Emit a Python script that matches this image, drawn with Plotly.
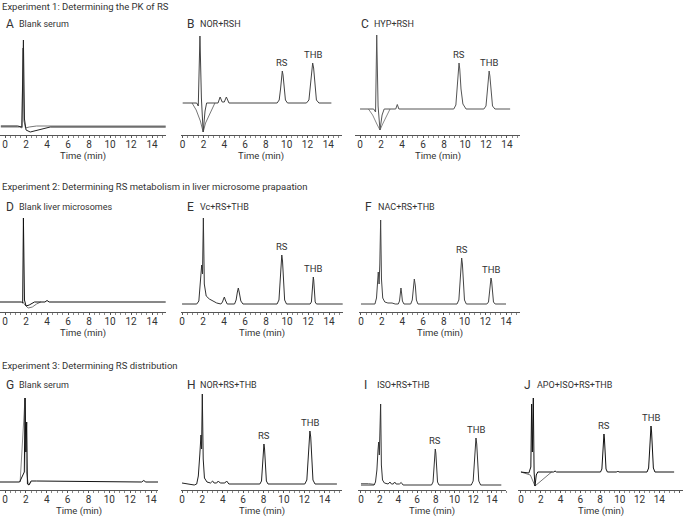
import plotly.graph_objects as go

# ---------------------------------------
# DATA: time (min) and signal (arbitrary units above baseline)
# ---------------------------------------
TITLES = [
    "Experiment 1: Determining the PK of RS",
    "Experiment 2: Determining RS metabolism in liver microsome prapaation",
    "Experiment 3: Determining RS distribution",
]
LETTERS = ["A", "B", "C", "D", "E", "F", "G", "H", "I", "J"]
NAMES = ["Blank serum", "NOR+RSH", "HYP+RSH",
         "Blank liver microsomes", "Vc+RS+THB", "NAC+RS+THB",
         "Blank serum", "NOR+RS+THB", "ISO+RS+THB", "APO+ISO+RS+THB"]
AXIS_TITLE = "Time (min)"

# A - blank serum
a_t1 = [-0.4, 1.2, 1.6, 1.75, 1.85, 2.0, 2.4, 3.2, 4.3, 15.3]
a_s1 = [1, 1, 0, 87, 8, -3, -5, -3, 0, 0]
a_t2 = [-0.4, 1.4, 1.62, 1.7, 1.8, 1.95, 2.3, 3.0, 4.0, 15.3]
a_s2 = [0, 0, -1, 79, 6, -1, 0, 1, 1, 1]

# B - NOR+RSH
b_t1 = [0, 1.35, 1.5, 1.66, 1.8, 1.97, 2.15, 2.3, 3.4, 3.6, 3.8, 4.0, 4.2, 4.45,
        9.08, 9.28, 9.41, 9.51, 9.58, 9.65, 9.75, 9.88, 10.08,
        11.9, 12.14, 12.29, 12.41, 12.5, 12.59, 12.71, 12.86, 13.1, 14.3]
b_s1 = [0, 0, -3, 67, 5, -29, -8, 0, 0, 6, 1, 1, 6, 0,
        0, 3, 14, 28, 32, 28, 14, 3, 0,
        0, 3, 18, 35, 40, 35, 18, 3, 0, 0]
b_t2 = [0.9, 1.3, 1.7, 1.97, 2.2, 2.5, 2.6, 2.9, 3.1]
b_s2 = [0, -7, -18, -29, -20, -13, -10, -4, 0]

# C - HYP+RSH
c_t1 = [0, 1.3, 1.48, 1.59, 1.72, 1.9, 2.1, 2.3, 3.4, 3.55, 3.7,
        8.93, 9.13, 9.26, 9.36, 9.43, 9.5, 9.62, 9.8, 10.1,
        11.8, 12.0, 12.12, 12.23, 12.3, 12.37, 12.48, 12.62, 12.85, 14.3]
c_s1 = [0, 0, -3, 74, 3, -21, -6, 0, 0, 4.5, 0,
        0, 4, 20, 40, 46, 40, 20, 5, 0,
        0, 3, 17, 33, 38, 33, 17, 3, 0, 0]
c_t2 = [0.8, 1.2, 1.6, 1.9, 2.2, 2.5, 2.86]
c_s2 = [0, -6, -15, -21, -14, -7, 0]

# D - blank liver microsomes
d_t1 = [-0.5, 1.55, 1.68, 1.75, 1.85, 2.0, 2.3, 2.8, 3.8, 4.0, 4.2, 15.3]
d_s1 = [0, 0, -1, 84, 2, -4, -3, 0, 0, 1.5, 0, 0]
d_t2 = [1.7, 1.9, 2.2, 2.6, 3.0, 3.4]
d_s2 = [0, -3, -6, -5, -2, 0]

# E - Vc+RS+THB
e_t1 = [0, 1.4, 1.6, 1.75, 1.87, 1.95, 2.03, 2.12, 2.3, 2.6, 3.0, 3.3,
        3.7, 3.85, 3.95, 4.03, 4.12, 4.3, 5.0, 5.15, 5.27, 5.36, 5.46, 5.6, 5.8,
        9.05, 9.23, 9.34, 9.43, 9.5, 9.57, 9.66, 9.77, 9.95,
        12.2, 12.32, 12.4, 12.46, 12.5, 12.54, 12.6, 12.68, 12.8, 15.3]
e_s1 = [0, 0, 3, 20, 39, 30, 86, 20, 8, 5, 3, 1,
        0, 2, 5, 7, 4, 0, 0, 4, 12, 16, 11, 3, 0,
        0, 4, 22, 43, 49, 43, 22, 4, 0,
        0, 2, 12, 24, 27, 24, 12, 2, 0, 0]

# F - NAC+RS+THB
f_t1 = [0, 1.35, 1.5, 1.6, 1.67, 1.75, 1.82, 1.9, 1.98, 2.1, 2.3, 2.6, 3.0, 3.3,
        3.6, 3.72, 3.8, 3.86, 3.92, 4.0, 4.15, 4.8, 4.95, 5.05, 5.15, 5.25, 5.35, 5.5, 6.0,
        9.27, 9.45, 9.56, 9.65, 9.72, 9.79, 9.88, 9.99, 10.17,
        12.15, 12.31, 12.41, 12.49, 12.55, 12.61, 12.69, 12.79, 12.95, 14.0]
f_s1 = [0, 0, 6, 25, 32, 20, 40, 84, 25, 6, 2, 1, 1, 0,
        0, 3, 11, 16, 11, 3, 0, 0, 4, 18, 25, 18, 4, 0, 0,
        0, 4, 21, 40, 46, 40, 21, 4, 0,
        0, 2, 12, 23, 26, 23, 12, 2, 0, 0]

# G - blank serum
g_t1 = [-0.5, 1.4, 1.85, 1.92, 2.0, 2.08, 2.15, 2.3, 2.5, 3.0, 13.1, 13.3, 13.5, 15.0]
g_s1 = [0, 0, 10, 84, 30, 60, -2, -3, 1, 1, 0, 1.5, 0, 0]
g_t2 = [1.45, 1.92, 2.05, 2.25, 2.5]
g_s2 = [0, 84, 10, -3, 0]

# H - NOR+RS+THB
h_t1 = [0, 0.6, 1.2, 1.44, 1.6, 1.75, 1.86, 1.92, 1.99, 2.08, 2.2, 2.45,
        2.8, 2.9, 3.0, 3.15, 3.4, 3.56, 3.75, 4.2, 4.38, 4.6, 5.5,
        7.64, 7.8, 7.9, 7.98, 8.04, 8.1, 8.18, 8.28, 8.44,
        12.05, 12.25, 12.37, 12.47, 12.55, 12.63, 12.73, 12.85, 13.05, 15.2]
h_s1 = [1, 0, -1, 0, 8, 30, 49, 35, 90, 25, 6, 2,
        1, 2, 3, 1, 1, 3, 1, 1, 3, 0, 0,
        0, 3, 18, 35, 40, 35, 18, 3, 0,
        0, 4, 24, 47, 53, 47, 24, 4, 0, 0]

# I - ISO+RS+THB
i_t1 = [0, 1.4, 1.55, 1.7, 1.82, 1.89, 1.96, 2.03, 2.1, 2.18, 2.3, 2.5,
        2.9, 3.0, 3.1, 3.25, 3.45, 3.6, 3.75, 4.1, 4.3, 4.5, 5.5,
        7.54, 7.7, 7.8, 7.88, 7.94, 8.0, 8.08, 8.18, 8.34,
        11.79, 11.99, 12.11, 12.21, 12.29, 12.37, 12.47, 12.59, 12.79, 15.0]
i_s1 = [0, 0, 3, 15, 35, 43, 30, 60, 81, 20, 5, 2,
        1, 2, 3, 1, 1, 3, 1, 1, 2.5, 0, 0,
        0, 3, 16, 32, 36, 32, 16, 3, 0,
        0, 4, 21, 41, 47, 41, 21, 4, 0, 0]
i_t2 = [0, 0.8, 1.5]
i_s2 = [1.5, 1.5, 0.5]

# J - APO+ISO+RS+THB
j_t1 = [0, 0.8, 1.0, 1.08, 1.15, 1.25, 1.33, 1.42, 1.55, 1.7, 3.3, 3.45, 3.6,
        8.05, 8.19, 8.28, 8.35, 8.4, 8.45, 8.52, 8.61, 8.75, 9.7, 9.8, 9.9,
        12.76, 12.92, 13.02, 13.1, 13.16, 13.22, 13.3, 13.4, 13.56, 15.5]
j_s1 = [0, -1, 5, 68, 20, 74, 0, -14, -3, 0, 0, 1, 0,
        0, 3, 17, 33, 38, 33, 17, 3, 0, 0, 1, 0,
        0, 4, 21, 40, 46, 40, 21, 4, 0, 0]
j_t2 = [0, 0.95, 1.42, 3.1]
j_s2 = [0, -3, -14, 0]

# peak labels: (panel index, label, retention time, height)
PEAK_LABELS = [
    (1, "RS", 9.58, 32), (1, "THB", 12.5, 40),
    (2, "RS", 9.43, 46), (2, "THB", 12.3, 38),
    (4, "RS", 9.5, 49), (4, "THB", 12.5, 27),
    (5, "RS", 9.72, 46), (5, "THB", 12.55, 26),
    (7, "RS", 8.04, 40), (7, "THB", 12.55, 53),
    (8, "RS", 7.94, 36), (8, "THB", 12.29, 47),
    (9, "RS", 8.4, 38), (9, "THB", 13.16, 46),
]

# ---------------------------------------
# LAYOUT (pixel geometry of each panel)
# ---------------------------------------
W, H = 685, 517
ROW_AXIS = [135, 312, 490]
ROW_TOP = [30, 210, 390]
ROW_TITLE_Y = [6, 187, 365]
ROW_LABEL_Y = [24, 207, 385]

# (row, left px, right px, x range, baseline px, traces)
PANELS = [
    (0, 0, 166, [-0.48, 15.33], 127, [(a_t2, a_s2, "#777"), (a_t1, a_s1, "#222")]),
    (0, 180.5, 342, [-0.21, 15.32], 103, [(b_t2, b_s2, "#777"), (b_t1, b_s1, "#444")]),
    (0, 355, 520, [-0.48, 15.24], 109, [(c_t2, c_s2, "#888"), (c_t1, c_s1, "#555")]),
    (1, 0, 166, [-0.48, 15.33], 302, [(d_t2, d_s2, "#777"), (d_t1, d_s1, "#111")]),
    (1, 181, 343, [-0.1, 15.33], 304, [(e_t1, e_s1, "#333")]),
    (1, 359, 520, [-0.19, 15.35], 304, [(f_t1, f_s1, "#444")]),
    (2, 0, 158, [-0.48, 14.67], 482, [(g_t2, g_s2, "#888"), (g_t1, g_s1, "#111")]),
    (2, 181, 342, [-0.1, 15.7], 484, [(h_t1, h_s1, "#222")]),
    (2, 358, 506, [-0.32, 15.5], 485, [(i_t2, i_s2, "#777"), (i_t1, i_s1, "#333")]),
    (2, 518, 683, [-0.3, 16.4], 472, [(j_t2, j_s2, "#777"), (j_t1, j_s1, "#111")]),
]

FONT = "Roboto"
TXT = "#333"

fig = go.Figure()
annotations = []

for k, (row, x0, x1, xr, base, traces) in enumerate(PANELS):
    n = k + 1
    axis_px, top_px = ROW_AXIS[row], ROW_TOP[row]
    for t, s, col in traces:
        fig.add_trace(go.Scatter(
            x=t, y=s, mode="lines",
            line=dict(color=col, width=1),
            xaxis=f"x{n}", yaxis=f"y{n}",
            hoverinfo="skip", showlegend=False
        ))
    fig.layout[f"xaxis{n}"] = dict(
        domain=[x0 / W, x1 / W], range=xr, anchor=f"y{n}",
        showline=True, linecolor="#555", linewidth=1,
        showgrid=False, zeroline=False, automargin=False,
        tick0=0, dtick=2, ticks="outside", ticklen=2, tickcolor="#555",
        minor=dict(dtick=0.5, ticks="outside", ticklen=2, tickcolor="#888"),
        tickfont=dict(family=FONT, size=10, color=TXT),
        ticklabelstandoff=-2,
        fixedrange=True
    )
    fig.layout[f"yaxis{n}"] = dict(
        domain=[1 - axis_px / H, 1 - top_px / H],
        range=[-(axis_px - base), base - top_px],
        anchor=f"x{n}", visible=False, fixedrange=True, automargin=False
    )
    # axis title under the tick labels
    annotations.append(dict(
        x=(x0 + x1) / 2 / W, y=1 - (axis_px + 20.5) / H, xref="paper", yref="paper",
        text=AXIS_TITLE, showarrow=False, xanchor="center", yanchor="middle",
        font=dict(family=FONT, size=9.5, color=TXT)
    ))
    # panel letter and name
    annotations.append(dict(
        x=(x0 + 4) / W, y=1 - ROW_LABEL_Y[row] / H, xref="paper", yref="paper",
        text=LETTERS[k], showarrow=False, xanchor="left", yanchor="middle",
        font=dict(family=FONT, size=12, color=TXT)
    ))
    annotations.append(dict(
        x=(x0 + 17) / W, y=1 - ROW_LABEL_Y[row] / H, xref="paper", yref="paper",
        text=NAMES[k], showarrow=False, xanchor="left", yanchor="middle",
        font=dict(family=FONT, size=9, color=TXT)
    ))

for k, lab, rt, h in PEAK_LABELS:
    n = k + 1
    annotations.append(dict(
        x=rt, y=h, xref=f"x{n}", yref=f"y{n}", text=lab, showarrow=False,
        xanchor="center", yanchor="bottom", yshift=1,
        font=dict(family=FONT, size=9.5, color=TXT)
    ))

for r, title in enumerate(TITLES):
    annotations.append(dict(
        x=0, y=1 - ROW_TITLE_Y[r] / H, xref="paper", yref="paper", text=title,
        showarrow=False, xanchor="left", yanchor="middle",
        font=dict(family=FONT, size=9.5, color=TXT)
    ))

fig.update_layout(
    width=W, height=H,
    margin=dict(l=0, r=0, t=0, b=0),
    paper_bgcolor="white", plot_bgcolor="white",
    showlegend=False,
    annotations=annotations
)

# page body has a default 8px margin; drop it so the figure fills the window
fig.write_html("out.html", config={"displayModeBar": False},
               post_script="document.body.style.margin='0';")
